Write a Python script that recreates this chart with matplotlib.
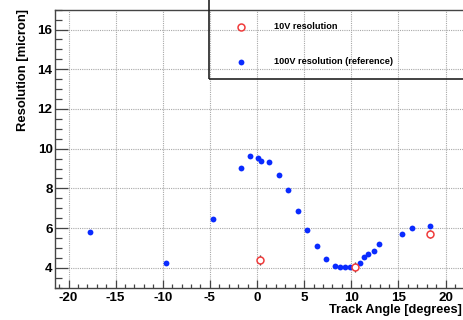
#!/usr/bin/env python3
"""Resolution vs track angle, 10V vs 100V reference."""

import matplotlib

matplotlib.use("Agg")
import matplotlib.pyplot as plt
from matplotlib.patches import Rectangle
from matplotlib.ticker import MultipleLocator

# 100V resolution (reference)
REF_ANGLE = [-17.7, -9.7, -4.7, -1.7, -0.7, 0.1, 0.4, 1.3, 2.3, 3.3, 4.3, 5.3,
             6.4, 7.3, 8.3, 8.8, 9.3, 9.9, 10.4, 10.9, 11.4, 11.8, 12.4, 12.9,
             15.4, 16.4, 18.4]
REF_RES = [5.81, 4.24, 6.45, 9.02, 9.64, 9.53, 9.38, 9.31, 8.70, 7.92, 6.87, 5.93,
           5.12, 4.45, 4.08, 4.05, 4.05, 4.05, 4.05, 4.22, 4.54, 4.69, 4.84, 5.19,
           5.71, 6.02, 6.13]

# 10V resolution
LOW_ANGLE = [0.36, 10.36, 18.38]
LOW_RES = [4.40, 4.03, 5.71]
LOW_ERR = [0.25, 0.25, 0.2]

BLUE = "#0a2bff"
RED = "#f03c3c"
FRAME = "#444444"
FONT = "Liberation Sans"

plt.rcParams["font.family"] = [FONT, "DejaVu Sans"]
plt.rcParams["font.weight"] = "bold"
plt.rcParams["axes.unicode_minus"] = False

fig = plt.figure(figsize=(4.64, 3.2), dpi=100)
ax = fig.add_axes([0.1192, 0.1009, 0.902, 0.8688])

ax.plot(REF_ANGLE, REF_RES, "o", color=BLUE, markersize=4.2, markeredgewidth=0,
        zorder=3)
ax.errorbar(LOW_ANGLE, LOW_RES, yerr=LOW_ERR, fmt="o", color=RED,
            markerfacecolor="white", markeredgecolor=RED, markersize=5,
            markeredgewidth=1.1, ecolor="#333333", elinewidth=0.9, capsize=0,
            zorder=4)

ax.set_xlim(-21.4, 23)
ax.set_ylim(3, 17)
ax.xaxis.set_major_locator(MultipleLocator(5))
ax.xaxis.set_minor_locator(MultipleLocator(1))
ax.yaxis.set_minor_locator(MultipleLocator(0.5))
ax.set_yticks([4, 6, 8, 10, 12, 14, 16])

ax.tick_params(axis="both", which="both", direction="in", color=FRAME,
               labelsize=9.6, top=False, right=False)
ax.tick_params(axis="y", which="major", length=9.4, width=0.9, pad=2)
ax.tick_params(axis="y", which="minor", length=4.7, width=0.9)
ax.tick_params(axis="x", which="major", length=6, width=0.9, pad=3.2)
ax.tick_params(axis="x", which="minor", length=3, width=0.9)
for lab in ax.get_xticklabels() + ax.get_yticklabels():
    lab.set_fontweight("bold")

for side in ("left", "bottom", "top"):
    ax.spines[side].set_color(FRAME)
    ax.spines[side].set_linewidth(1.0)
ax.spines["right"].set_visible(False)

ax.grid(True, which="major", linestyle=(0, (1, 1)), color="#a8a8a8",
        linewidth=0.8, zorder=0)
ax.set_axisbelow(True)

# legend box (open to the right, cut by the figure edge)
box = Rectangle((0.368, 0.7496), 0.8, 0.3, transform=ax.transAxes,
                fill=False, edgecolor="#222222", linewidth=1.2, clip_on=False,
                zorder=5)
ax.add_patch(box)
ax.plot([0.444], [0.938], "o", transform=ax.transAxes, markersize=5,
        markerfacecolor="white", markeredgecolor=RED, markeredgewidth=1.1,
        clip_on=False, zorder=6)
ax.plot([0.444], [0.812], "o", transform=ax.transAxes, markersize=4.2,
        color=BLUE, markeredgewidth=0, clip_on=False, zorder=6)
ax.text(0.5216, 0.938, "10V resolution", transform=ax.transAxes,
        fontsize=6.6, fontweight="bold", va="center", ha="left")
ax.text(0.5216, 0.812, "100V resolution (reference)", transform=ax.transAxes,
        fontsize=6.6, fontweight="bold", va="center", ha="left")

fig.text(0.05, 0.972, "Resolution [micron]", rotation=90, ha="center",
         va="top", fontsize=9.4, fontweight="bold")
fig.text(0.996, 0.012, "Track Angle [degrees]", ha="right", va="bottom",
         fontsize=9.2, fontweight="bold")

fig.savefig("out.png", dpi=100)
